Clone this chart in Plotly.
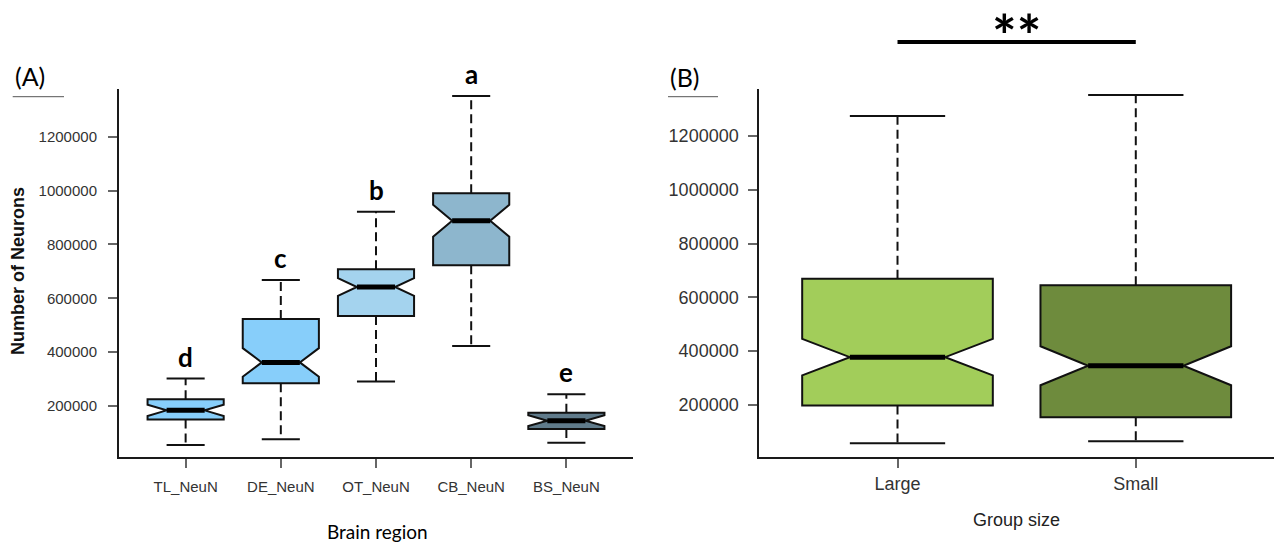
import plotly.graph_objects as go

W, H = 1274, 543

# ---------------- data ----------------
regions = ["TL_NeuN", "DE_NeuN", "OT_NeuN", "CB_NeuN", "BS_NeuN"]
region_lower = [55000, 76500, 291000, 423000, 64000]
region_q1 = [150000, 285000, 534000, 723000, 115000]
region_median = [184000, 362000, 642000, 888000, 145500]
region_q3 = [225000, 523500, 707500, 990000, 175500]
region_upper = [302000, 668000, 921500, 1351000, 243500]
region_notch = [21000, 53000, 33000, 59000, 20000]
region_letters = ["d", "c", "b", "a", "e"]
region_colors = ["#87CEFA", "#87CEFA", "#A4D3EE", "#8DB6CD", "#607B8B"]

groups = ["Large", "Small"]
group_lower = [57000, 64500]
group_q1 = [197500, 154000]
group_median = [377500, 345500]
group_q3 = [669500, 645000]
group_upper = [1274500, 1353000]
group_notch = [68000, 72500]
group_colors = ["#A2CD5A", "#6E8B3D"]

y_ticks = [200000, 400000, 600000, 800000, 1000000, 1200000]

BOX_W = 0.8
CAP_HALF = BOX_W / 4


def px_x(p):
    return p / W


def px_y(p):
    return 1 - p / H


fig = go.Figure()


def add_panel(names, lower, q1, med, q3, upper, notch, colors, xa, ya):
    pos = list(range(1, len(names) + 1))
    for i, p in enumerate(pos):
        fig.add_trace(go.Box(
            x=[p], q1=[q1[i]], median=[med[i]], q3=[q3[i]],
            lowerfence=[q1[i]], upperfence=[q3[i]],
            notched=True, notchspan=[notch[i]], notchwidth=0.25,
            width=BOX_W, fillcolor=colors[i], whiskerwidth=0,
            line=dict(color="#111111", width=2), boxpoints=False,
            xaxis=xa, yaxis=ya, showlegend=False, hoverinfo="skip"))
    wx, wy, cx, cy, mx, my = [], [], [], [], [], []
    for i, p in enumerate(pos):
        wx += [p, p, None, p, p, None]
        wy += [q3[i], upper[i], None, q1[i], lower[i], None]
        cx += [p - CAP_HALF, p + CAP_HALF, None, p - CAP_HALF, p + CAP_HALF, None]
        cy += [upper[i], upper[i], None, lower[i], lower[i], None]
        mx += [p - CAP_HALF, p + CAP_HALF, None]
        my += [med[i], med[i], None]
    fig.add_trace(go.Scatter(x=wx, y=wy, mode="lines", xaxis=xa, yaxis=ya,
                             line=dict(color="#111111", width=2, dash="9px,5px"),
                             showlegend=False, hoverinfo="skip"))
    fig.add_trace(go.Scatter(x=cx, y=cy, mode="lines", xaxis=xa, yaxis=ya,
                             line=dict(color="#111111", width=2),
                             showlegend=False, hoverinfo="skip"))
    fig.add_trace(go.Scatter(x=mx, y=my, mode="lines", xaxis=xa, yaxis=ya,
                             line=dict(color="black", width=5),
                             showlegend=False, hoverinfo="skip"))


add_panel(regions, region_lower, region_q1, region_median, region_q3,
          region_upper, region_notch, region_colors, "x", "y")
add_panel(groups, group_lower, group_q1, group_median, group_q3,
          group_upper, group_notch, group_colors, "x2", "y2")

# significance letters
for i, lab in enumerate(region_letters):
    fig.add_annotation(x=i + 1, y=region_upper[i], xref="x", yref="y",
                       text="<b>%s</b>" % lab, showarrow=False,
                       yanchor="bottom", yshift=4,
                       font=dict(family="Lato", size=26, color="black"))

tick_font_a = dict(family="Liberation Sans", size=15, color="#333333")
tick_font_b = dict(family="Liberation Sans", size=18, color="#333333")
ydom = [px_y(457.3), px_y(89.3)]

common = dict(showline=True, linecolor="#1a1a1a", linewidth=2, ticks="outside",
              ticklen=9, tickwidth=1.5, tickcolor="#666666", showgrid=False,
              zeroline=False, fixedrange=True)

fig.update_layout(
    width=W, height=H,
    margin=dict(l=0, r=0, t=0, b=0),
    paper_bgcolor="white", plot_bgcolor="white",
    xaxis=dict(domain=[px_x(119), px_x(633)], range=[0.3, 5.7], anchor="y",
               tickvals=list(range(1, len(regions) + 1)), ticktext=regions,
               tickfont=tick_font_a, ticklabelstandoff=6, **common),
    yaxis=dict(domain=ydom, range=[9650, 1376000], anchor="x",
               tickvals=y_ticks, tickformat="d", tickfont=tick_font_a,
               ticklabelstandoff=8, **common),
    xaxis2=dict(domain=[px_x(759.3), 1.0], range=[0.42, 2.58], anchor="y2",
                tickvals=list(range(1, len(groups) + 1)), ticktext=groups,
                tickfont=tick_font_b, ticklabelstandoff=0, **common),
    yaxis2=dict(domain=ydom, range=[4850, 1374000], anchor="x2",
                tickvals=y_ticks, tickformat="d", tickfont=tick_font_b,
                ticklabelstandoff=6, **common),
)

# panel labels and axis titles
fig.add_annotation(x=px_x(30), y=px_y(76), xref="paper", yref="paper",
                   text="(A)", showarrow=False, xanchor="center", yanchor="middle",
                   font=dict(family="Lato", size=25, color="black"))
fig.add_annotation(x=px_x(685), y=px_y(77), xref="paper", yref="paper",
                   text="(B)", showarrow=False, xanchor="center", yanchor="middle",
                   font=dict(family="Lato", size=25, color="black"))
fig.add_annotation(x=px_x(377), y=px_y(531), xref="paper", yref="paper",
                   text="Brain region", showarrow=False, xanchor="center", yanchor="middle",
                   font=dict(family="Lato", size=19, color="black"))
fig.add_annotation(x=px_x(1016.7), y=px_y(520), xref="paper", yref="paper",
                   text="Group size", showarrow=False, xanchor="center", yanchor="middle",
                   font=dict(family="Liberation Sans", size=18, color="#222222"))
fig.add_annotation(x=px_x(18), y=px_y(271), xref="paper", yref="paper",
                   text="<b>Number of Neurons</b>", showarrow=False, textangle=-90,
                   xanchor="center", yanchor="middle",
                   font=dict(family="Liberation Sans", size=18, color="#111111"))

# significance bar between the two groups
fig.add_shape(type="line", xref="x2", yref="paper", x0=1, x1=2,
              y0=px_y(42), y1=px_y(42), line=dict(color="black", width=4))
fig.add_annotation(x=1.5, y=px_y(34), xref="x2", yref="paper", text="<b>**</b>",
                   showarrow=False, xanchor="center", yanchor="middle",
                   font=dict(family="Lato", size=58, color="black"))

# short rules under panel labels
fig.add_shape(type="line", xref="paper", yref="paper", x0=px_x(12.7), x1=px_x(64),
              y0=px_y(96.7), y1=px_y(96.7), line=dict(color="#555555", width=1))
fig.add_shape(type="line", xref="paper", yref="paper", x0=px_x(668), x1=px_x(718),
              y0=px_y(96.7), y1=px_y(96.7), line=dict(color="#555555", width=1))

fig.write_html("out.html",
               config={"displayModeBar": False},
               post_script="document.body.style.margin='0px';"
                           "document.body.style.overflow='hidden';")
